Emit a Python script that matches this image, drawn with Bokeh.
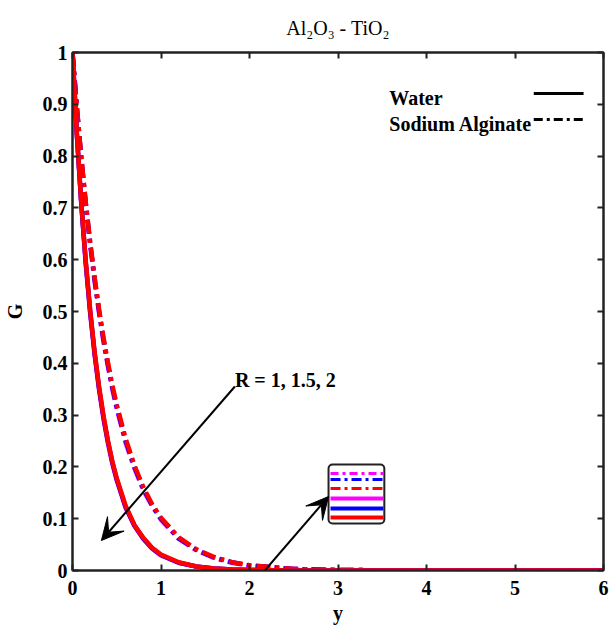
from bokeh.plotting import figure
from bokeh.models import (Range1d, LinearAxis, FixedTicker, Label, Arrow,
                          VeeHead, BoxAnnotation)
from bokeh.embed import file_html
from bokeh.resources import INLINE

# ---------------- data ----------------
y_vals = [0, 0.05, 0.1, 0.15, 0.2, 0.25, 0.3, 0.35, 0.4, 0.45, 0.5, 0.6, 0.7,
          0.8, 0.9, 1.0, 1.2, 1.4, 1.6, 1.8, 2.0, 2.5, 3.0, 4.0, 5.0, 6.0]

water_R1 = [1, 0.842, 0.709, 0.597, 0.502, 0.422, 0.355, 0.299, 0.251, 0.211,
            0.178, 0.125, 0.088, 0.063, 0.044, 0.031, 0.016, 0.0078, 0.0039,
            0.0019, 0.0010, 0.0002, 0.0, 0.0, 0.0, 0.0]
water_R15 = [1, 0.840, 0.707, 0.594, 0.499, 0.419, 0.352, 0.296, 0.249, 0.209,
             0.176, 0.123, 0.087, 0.062, 0.043, 0.030, 0.015, 0.0076, 0.0038,
             0.0018, 0.0009, 0.0002, 0.0, 0.0, 0.0, 0.0]
water_R2 = [1, 0.838, 0.705, 0.591, 0.496, 0.416, 0.349, 0.293, 0.246, 0.206,
            0.174, 0.121, 0.086, 0.061, 0.042, 0.029, 0.015, 0.0074, 0.0037,
            0.0017, 0.0009, 0.0002, 0.0, 0.0, 0.0, 0.0]

sodium_R1 = [1, 0.893, 0.797, 0.711, 0.634, 0.566, 0.505, 0.450, 0.402, 0.358,
             0.320, 0.255, 0.203, 0.161, 0.128, 0.102, 0.064, 0.041, 0.026,
             0.016, 0.010, 0.003, 0.001, 0.0001, 0.0, 0.0]
sodium_R15 = [1, 0.892, 0.795, 0.708, 0.631, 0.562, 0.501, 0.446, 0.398, 0.354,
              0.316, 0.251, 0.200, 0.158, 0.126, 0.100, 0.062, 0.040, 0.025,
              0.016, 0.010, 0.003, 0.001, 0.0001, 0.0, 0.0]
sodium_R2 = [1, 0.891, 0.793, 0.705, 0.628, 0.558, 0.497, 0.442, 0.394, 0.350,
             0.312, 0.247, 0.197, 0.155, 0.124, 0.098, 0.061, 0.039, 0.024,
             0.015, 0.009, 0.003, 0.001, 0.0001, 0.0, 0.0]

x_ticks = [0, 1, 2, 3, 4, 5, 6]
x_tick_labels = ["0", "1", "2", "3", "4", "5", "6"]
y_ticks = [0, 0.1, 0.2, 0.3, 0.4, 0.5, 0.6, 0.7, 0.8, 0.9, 1.0]
y_tick_labels = ["0", "0.1", "0.2", "0.3", "0.4", "0.5", "0.6", "0.7", "0.8",
                 "0.9", "1"]

title_text = "Al\u2082O\u2083 - TiO\u2082"

R_colors = ["magenta", "blue", "red"]          # R = 2, 1.5, 1 (draw order)
water_series = [water_R2, water_R15, water_R1]
sodium_series = [sodium_R2, sodium_R15, sodium_R1]

# ---------------- layout helpers ----------------
L, R, T, B = 70, 603, 52, 570   # frame in page pixels


def dx(px):
    return (px - L) / (R - L) * 6.0


def dy(py):
    return (B - py) / (B - T) * 1.0


FONT = "Liberation Serif"
AXC = "#222222"

p = figure(width=611, height=637, x_range=Range1d(0, 6), y_range=Range1d(0, 1),
           output_backend="svg", toolbar_location=None,
           min_border_left=L, min_border_right=611 - R,
           min_border_top=T, min_border_bottom=637 - B,
           title=title_text)
p.title.align = "center"
p.title.text_font = FONT
p.title.text_font_size = "20px"
p.title.text_font_style = "normal"
p.title.text_color = "black"
p.title.standoff = 27
p.xgrid.visible = False
p.ygrid.visible = False
p.outline_line_color = AXC
p.outline_line_width = 2
p.background_fill_color = "white"
p.border_fill_color = "white"


def style_axis(ax, ticks, labels, show_labels=True):
    ax.ticker = FixedTicker(ticks=ticks)
    if show_labels:
        ax.major_label_overrides = {t: s for t, s in zip(ticks, labels)}
    else:
        ax.major_label_overrides = {t: "" for t in ticks}
    ax.major_tick_in = 6
    ax.major_tick_out = 0
    ax.minor_tick_in = 0
    ax.minor_tick_out = 0
    ax.axis_line_color = AXC
    ax.axis_line_width = 2
    ax.major_tick_line_color = AXC
    ax.major_tick_line_width = 2
    ax.major_label_text_font = FONT
    ax.major_label_text_font_style = "bold"
    ax.major_label_text_font_size = "20px"
    ax.major_label_text_color = "black"
    ax.axis_label_text_font = FONT
    ax.axis_label_text_font_style = "bold"
    ax.axis_label_text_font_size = "20px"
    ax.axis_label_text_color = "black"


style_axis(p.xaxis[0], x_ticks, x_tick_labels)
p.xaxis[0].axis_label = "y"
p.xaxis[0].major_label_standoff = 10
p.xaxis[0].axis_label_standoff = 4

style_axis(p.yaxis[0], y_ticks, y_tick_labels)
p.yaxis[0].axis_label = "G"
p.yaxis[0].major_label_standoff = 5
p.yaxis[0].axis_label_standoff = 14

top_ax = LinearAxis()
style_axis(top_ax, x_ticks, x_tick_labels, show_labels=False)
top_ax.major_label_standoff = 0
p.add_layout(top_ax, "above")

right_ax = LinearAxis()
style_axis(right_ax, y_ticks, y_tick_labels, show_labels=False)
right_ax.major_label_standoff = 0
p.add_layout(right_ax, "right")

# inset box (drawn beneath glyphs)
p.add_layout(BoxAnnotation(left=dx(327), right=dx(383), top=dy(464), bottom=dy(523),
                           fill_color="white", fill_alpha=1.0, line_color="#222222",
                           line_alpha=1.0, line_width=2, border_radius=4,
                           level="underlay"))

# ---------------- curves ----------------
for col, g in zip(R_colors, sodium_series):
    p.line(y_vals, g, line_color=col, line_width=4.5, line_dash="14 5 4 5")
for col, g in zip(R_colors, water_series):
    p.line(y_vals, g, line_color=col, line_width=4.5)

# ---------------- legend ----------------
p.add_layout(Label(x=dx(388), y=dy(97), text="Water", text_font=FONT,
                   text_font_style="bold", text_font_size="20px",
                   text_color="black", text_baseline="alphabetic"))
p.add_layout(Label(x=dx(388), y=dy(123), text="Sodium Alginate", text_font=FONT,
                   text_font_style="bold", text_font_size="20px",
                   text_color="black", text_baseline="alphabetic"))
p.line([dx(533), dx(583)], [dy(93), dy(93)], line_color="black", line_width=3)
p.line([dx(533), dx(583)], [dy(119), dy(119)], line_color="black", line_width=3,
       line_dash="9 4 3 4")

# ---------------- annotation: R label + arrows ----------------
p.add_layout(Label(x=dx(233), y=dy(379), text="R = 1, 1.5, 2", text_font=FONT,
                   text_font_style="bold", text_font_size="20px",
                   text_color="black", text_baseline="alphabetic"))
p.add_layout(Arrow(end=VeeHead(size=22, fill_color="black", line_color="black"),
                   x_start=dx(233), y_start=dy(386), x_end=dx(99), y_end=dy(540),
                   line_color="black", line_width=2))
p.add_layout(Arrow(end=VeeHead(size=22, fill_color="black", line_color="black"),
                   x_start=dx(263), y_start=dy(570), x_end=dx(327), y_end=dy(496),
                   line_color="black", line_width=2))

inset_rows = [("magenta", 473, "8 4 3 4", 3), ("blue", 479, "10 4 3 4", 3),
              ("red", 488, "10 4 3 4", 3), ("magenta", 498, "solid", 4),
              ("blue", 508, "solid", 4), ("red", 517, "solid", 4)]
for col, py, dash, w in inset_rows:
    p.line([dx(329), dx(382)], [dy(py), dy(py)], line_color=col, line_width=w,
           line_dash=dash)

open("out.html", "w").write(file_html(p, INLINE))
